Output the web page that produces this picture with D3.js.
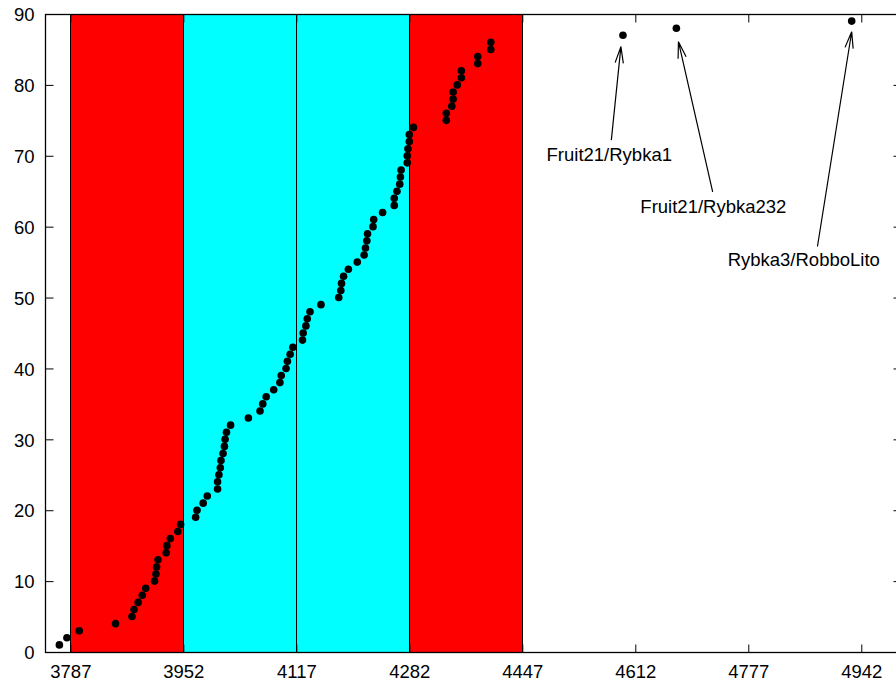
<!DOCTYPE html>
<html><head><meta charset="utf-8">
<script src="https://cdn.jsdelivr.net/npm/d3@7"></script>
<style>body{margin:0;background:#fff}svg{display:block}text{font-family:"Liberation Sans",Arial,sans-serif;font-size:18.5px;fill:#000}</style>
</head><body><svg id="c" width="896" height="681"></svg>
<script>
// Data
const xTicks = [3787, 3952, 4117, 4282, 4447, 4612, 4777, 4942];
const yTicks = [0, 10, 20, 30, 40, 50, 60, 70, 80, 90];
const bandStarts = [3787, 3952, 4117, 4282];
const bandEnds   = [3952, 4117, 4282, 4447];
const bandColors = ["#ff0000", "#00ffff", "#00ffff", "#ff0000"];
const ratings = [3771,3782,3800,3853,3877,3880,3886,3892,3897,3910,
  3912,3913,3915,3927,3928,3933,3944,3948,3970,3972,
  3981,3987,4002,4002,4004,4006,4007,4010,4012,4013,
  4015,4021,4047,4064,4068,4073,4084,4093,4095,4102,
  4104,4108,4112,4126,4127,4131,4133,4137,4153,4179,
  4182,4183,4186,4193,4206,4216,4218,4220,4221,4229,
  4230,4243,4260,4260,4264,4268,4269,4270,4279,4279,
  4280,4282,4282,4288,4336,4336,4344,4346,4346,4352,
  4358,4358,4382,4382,4401,4401,4594,4672,4928];
const ranks = ratings.map((d, i) => i + 1);
const labelTexts = ["Fruit21/Rybka1", "Fruit21/Rybka232", "Rybka3/RobboLito"];
const labelX = [4574, 4726, 4858];
const labelY = [69.2, 61.9, 54.5];
const arrowFromX = [4577, 4725, 4878];
const arrowFromY = [72.2, 64.9, 57.2];
const arrowToX = [4591, 4675, 4928];
const arrowToY = [85.4, 86.1, 87.5];

const svg = d3.select("#c");
const L = 45, R = 901, T = 14, B = 652;
const x = d3.scaleLinear().domain([3750, 5000]).range([L, R]);
const y = d3.scaleLinear().domain([0, 90]).range([B, T]);

// bands
svg.selectAll("rect.band").data(bandStarts).join("rect")
  .attr("x", (d) => Math.round(x(d)) + 0.5)
  .attr("y", T + 0.5)
  .attr("width", (d, i) => Math.round(x(bandEnds[i])) - Math.round(x(d)))
  .attr("height", B - T)
  .attr("fill", (d, i) => bandColors[i])
  .attr("stroke", "#000").attr("stroke-width", 1);

// frame
svg.append("rect").attr("x", L + 0.5).attr("y", T + 0.5)
  .attr("width", R - L).attr("height", B - T)
  .attr("fill", "none").attr("stroke", "#000").attr("stroke-width", 1.3);

// axes with inward ticks
const tl = 8;
const gx = svg.append("g").attr("transform", `translate(0,${B + 0.5})`)
  .call(d3.axisBottom(x).tickValues(xTicks).tickSize(-tl).tickPadding(tl + 10).tickFormat(d3.format("d")));
const gxt = svg.append("g").attr("transform", `translate(0,${T + 0.5})`)
  .call(d3.axisTop(x).tickValues(xTicks).tickSize(-tl).tickFormat(""));
const gy = svg.append("g").attr("transform", `translate(${L + 0.5},0)`)
  .call(d3.axisLeft(y).tickValues(yTicks).tickSize(-tl).tickPadding(tl + 10).tickFormat(d3.format("d")));
const gyr = svg.append("g").attr("transform", `translate(${R + 0.5},0)`)
  .call(d3.axisRight(y).tickValues(yTicks).tickSize(-tl).tickFormat(""));
[gx, gxt, gy, gyr].forEach(g => {
  g.select(".domain").remove();
  g.selectAll(".tick line").attr("stroke", "#000").attr("stroke-width", 1);
  g.selectAll("text").attr("font-size", null).attr("fill", "#000");
});
gx.selectAll("text").attr("dy", null).attr("y", 25);
gy.selectAll("text").attr("x", -11).attr("dy", "0.36em");
svg.selectAll("g").attr("font-family", null).attr("font-size", null);

// points
svg.selectAll("circle.pt").data(ratings).join("circle")
  .attr("cx", (d) => x(d)).attr("cy", (d, i) => y(ranks[i]))
  .attr("r", 3.8).attr("fill", "#000");

// arrows
const headLen = 17, headAng = 14 * Math.PI / 180;
labelTexts.forEach((t, i) => {
  const x1 = x(arrowFromX[i]), y1 = y(arrowFromY[i]);
  const x2 = x(arrowToX[i]), y2 = y(arrowToY[i]);
  const a = Math.atan2(y1 - y2, x1 - x2);
  const p = d3.path();
  p.moveTo(x1, y1); p.lineTo(x2, y2);
  p.moveTo(x2 + headLen * Math.cos(a + headAng), y2 + headLen * Math.sin(a + headAng));
  p.lineTo(x2, y2);
  p.lineTo(x2 + headLen * Math.cos(a - headAng), y2 + headLen * Math.sin(a - headAng));
  svg.append("path").attr("d", p.toString()).attr("fill", "none")
    .attr("stroke", "#000").attr("stroke-width", 1.2);
  svg.append("text").attr("x", x(labelX[i])).attr("y", y(labelY[i]))
    .attr("text-anchor", "middle").text(t);
});
</script></body></html>
